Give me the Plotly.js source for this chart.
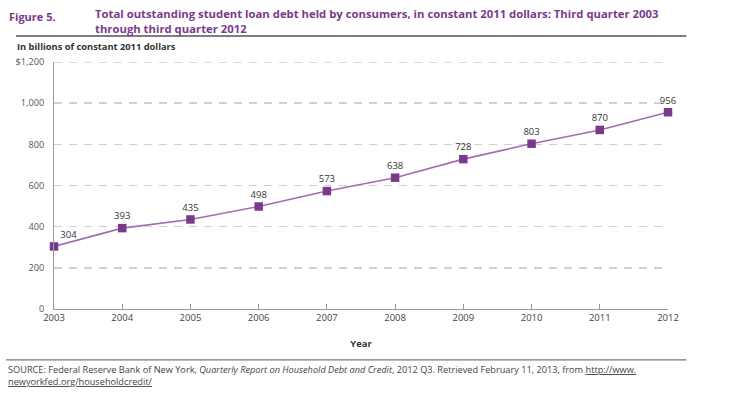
<!DOCTYPE html>
<html>
<head>
<meta charset="utf-8">
<script src="https://cdn.plot.ly/plotly-3.0.1.min.js"></script>
<style>html,body{margin:0;padding:0;background:#fff;}#chart{width:732px;height:397px;}</style>
</head>
<body>
<div id="chart"></div>
<script>
const years = [2003, 2004, 2005, 2006, 2007, 2008, 2009, 2010, 2011, 2012];
const debt = [304, 393, 435, 498, 573, 638, 728, 803, 870, 956];
const debtLabels = ["304", "393", "435", "498", "573", "638", "728", "803", "870", "956"];
const yTickVals = [0, 200, 400, 600, 800, 1000, 1200];
const yTickText = ["0", "200", "400", "600", "800", "1,000", "$1,200"];
const xTickText = ["2003", "2004", "2005", "2006", "2007", "2008", "2009", "2010", "2011", "2012"];

const FONT = "Open Sans, DejaVu Sans, sans-serif";
const PURPLE = "#7a3a8c";

const labelPos = debt.map((v, i) => i === 0 ? "top right" : "top center");

const trace = {
  x: years, y: debt, type: "scatter", mode: "lines+markers+text",
  line: {color: "#a56ab5", width: 1.6},
  marker: {symbol: "square", size: 8.5, color: PURPLE},
  text: debtLabels, textposition: labelPos,
  textfont: {family: FONT, size: 9.5, color: "#333"},
  cliponaxis: false, hoverinfo: "skip"
};

const yMax = yTickVals[yTickVals.length - 1];

const layout = {
  width: 732, height: 397,
  margin: {l: 54, r: 64, t: 62, b: 88},
  paper_bgcolor: "#fff", plot_bgcolor: "#fff",
  showlegend: false,
  font: {family: FONT, size: 9, color: "#444"},
  xaxis: {
    range: [years[0], years[years.length - 1]], tickvals: years, ticktext: xTickText,
    showgrid: false, zeroline: false, showline: true, linecolor: "#999", linewidth: 1,
    ticks: "inside", ticklen: 5, tickcolor: "#999",
    tickfont: {family: FONT, size: 9.5, color: "#444"},
    title: {text: "<b>Year</b>", font: {family: FONT, size: 9.5, color: "#333"}, standoff: 16}
  },
  yaxis: {
    range: [0, yMax], tickvals: yTickVals, ticktext: yTickText,
    showgrid: true, gridcolor: "#d0d0d0", gridwidth: 1.5, griddash: "8px,7px",
    zeroline: false, showline: true, linecolor: "#999", linewidth: 1,
    ticks: "", ticklabelstandoff: 7,
    tickfont: {family: FONT, size: 9.2, color: "#555"}
  },
  shapes: [
    {type: "line", xref: "x", yref: "y", x0: years[0], x1: years[years.length - 1], y0: yMax, y1: yMax,
     line: {color: "#d0d0d0", width: 1.5, dash: "8px,7px"}, layer: "below"},
    {type: "line", xref: "paper", yref: "paper", x0: -0.062, x1: 1.03, y0: 1.105, y1: 1.105,
     line: {color: "#555", width: 1.5}},
    {type: "line", xref: "paper", yref: "paper", x0: -0.078, x1: 1.03, y0: -0.206, y1: -0.206,
     line: {color: "#777", width: 1.2}}
  ],
  annotations: [
    {xref: "paper", yref: "paper", x: -0.076, y: 1.186, xanchor: "left", yanchor: "middle",
     text: "<b>Figure 5.</b>", showarrow: false, font: {family: FONT, size: 11, color: PURPLE}},
    {xref: "paper", yref: "paper", x: 0.063, y: 1.233, xanchor: "left", yanchor: "top", align: "left",
     text: "<b>Total outstanding student loan debt held by consumers, in constant 2011 dollars: Third quarter 2003<br>through third quarter 2012</b>",
     showarrow: false, font: {family: FONT, size: 11.3, color: PURPLE}},
    {xref: "paper", yref: "paper", x: -0.064, y: 1.061, xanchor: "left", yanchor: "middle",
     text: "<b>In billions of constant 2011 dollars</b>", showarrow: false,
     font: {family: FONT, size: 9.3, color: "#333"}},
    {xref: "paper", yref: "paper", x: -0.078, y: -0.212, xanchor: "left", yanchor: "top", align: "left",
     text: "SOURCE: Federal Reserve Bank of New York, <i>Quarterly Report on Household Debt and Credit</i>, 2012 Q3. Retrieved February 11, 2013, from <u>http://www.</u><br><u>newyorkfed.org/householdcredit/</u>",
     showarrow: false, font: {family: FONT, size: 9.2, color: "#444"}}
  ]
};

Plotly.newPlot("chart", [trace], layout, {displayModeBar: false, staticPlot: true});
</script>
</body>
</html>
